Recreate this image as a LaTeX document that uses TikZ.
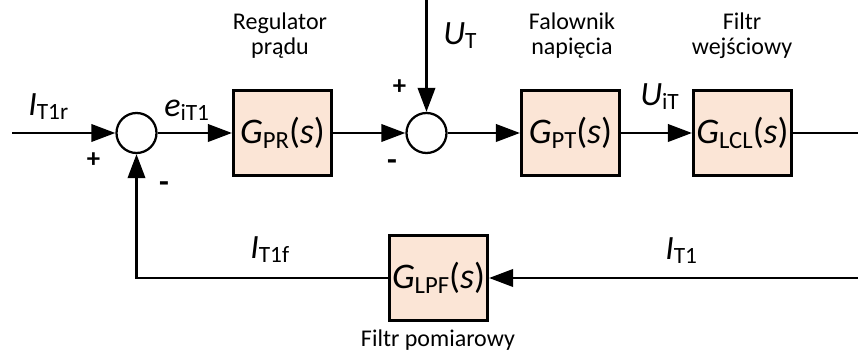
\documentclass[tikz,border=0pt]{standalone}
\usepackage{fontspec}
\setmainfont{Carlito}
\usetikzlibrary{arrows.meta}
\definecolor{boxfill}{HTML}{FBE5D6}
\newcommand\lblfont{\fontsize{18}{20}\selectfont}
\newcommand\mfont{\fontsize{25.5}{28}\selectfont}
\newcommand\sfont{\fontsize{17.5}{20}\selectfont}
\newcommand\bmfont{\fontsize{27}{30}\selectfont}
\newcommand\bsfont{\fontsize{18.5}{20}\selectfont}
\newcommand\ml[2]{{\mfont\itshape #1}\raisebox{-3pt}{\sfont #2}}
\newcommand\gf[1]{{\bmfont\itshape G}\raisebox{-3.5pt}{\bsfont #1}{\bmfont(\textit{s})}}
\begin{document}
\begin{tikzpicture}[x=0.75pt,y=-0.75pt,
  blk/.style={draw, line width=2.3pt, fill=boxfill, minimum width=73.5pt, minimum height=64pt, inner sep=0pt},
  sumc/.style={draw, circle, line width=1.7pt, minimum size=30pt, inner sep=0pt},
  wire/.style={line width=2pt},
  arr/.style={wire, -{Triangle[length=18pt,width=13pt]}},
  lbl/.style={font=\lblfont, inner sep=0pt, anchor=base},
  plus/.style={font=\fontsize{20}{22}\selectfont\bfseries, inner sep=0pt, anchor=base},
  minus/.style={font=\fontsize{24}{26}\selectfont\bfseries, inner sep=0pt, anchor=base},
  var/.style={inner sep=0pt, anchor=base west}]
\useasboundingbox (0,0) rectangle (858,352);
\node[sumc] (s1) at (136.5,133) {};
\node[blk] (bPR) at (282.5,133) {\gf{PR}};
\node[sumc] (s2) at (426.5,133) {};
\node[blk] (bPT) at (570.5,133) {\gf{PT}};
\node[blk] (bLCL) at (742.5,133) {\gf{LCL}};
\node[blk] (bLPF) at (438.5,278) {\gf{LPF}};
\coordinate (in) at (12,133);
\coordinate (out) at (858,133);
\coordinate (fb) at (858,278);
\coordinate (ut) at (426.5,0);
\draw[arr] (in) -- (s1);
\draw[arr] (s1) -- (bPR);
\draw[arr] (bPR) -- (s2);
\draw[arr] (ut) -- (s2);
\draw[arr] (s2) -- (bPT);
\draw[arr] (bPT) -- (bLCL);
\draw[wire] (bLCL) -- (out);
\draw[arr] (fb) -- (bLPF);
\draw[arr] (bLPF.west) -| (s1.south);
\node[var] (lIr) at (28,116) {\ml{I}{T1r}};
\node[var] (le) at (164,117) {\ml{e}{iT1}};
\node[var] (lUT) at (443,45) {\ml{U}{T}};
\node[var] (lUiT) at (640,106) {\ml{U}{iT}};
\node[var] (lIf) at (250,259) {\ml{I}{T1f}};
\node[var] (lI) at (665,260) {\ml{I}{T1}};
\node[lbl] (t1a) at (280,30) {Regulator};
\node[lbl] (t1b) at (280,55) {prądu};
\node[lbl] (t2a) at (572,30) {Falownik};
\node[lbl] (t2b) at (572,55) {napięcia};
\node[lbl] (t3a) at (742,30) {Filtr};
\node[lbl] (t3b) at (742,55) {wejściowy};
\node[lbl] (t4) at (438,347) {Filtr pomiarowy};
\node[plus] (p1) at (93.5,168) {+};
\node[minus] (m1) at (164,193) {-};
\node[plus] (p2) at (399.5,95) {+};
\node[minus] (m2) at (392,171) {-};
\end{tikzpicture}
\end{document}
